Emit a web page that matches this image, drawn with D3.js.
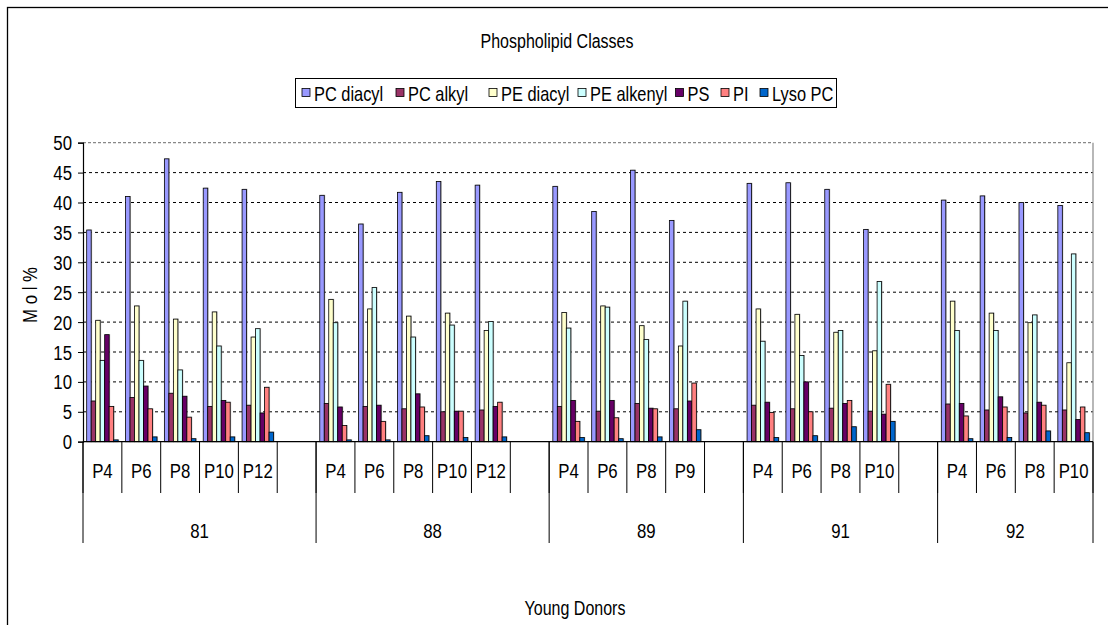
<!DOCTYPE html>
<html><head><meta charset="utf-8">
<script src="https://cdn.jsdelivr.net/npm/d3@7/dist/d3.min.js"></script>
<style>
body{margin:0;background:#fff;}
svg text{font-family:"Liberation Sans",Arial,sans-serif;fill:#000;}
</style></head><body>
<script>
// ---- data ----
const groups = ["81", "88", "89", "91", "92"];
const passages = [
  ["P4", "P6", "P8", "P10", "P12"],
  ["P4", "P6", "P8", "P10", "P12"],
  ["P4", "P6", "P8", "P9"],
  ["P4", "P6", "P8", "P10"],
  ["P4", "P6", "P8", "P10"]
];
const seriesNames = ["PC diacyl", "PC alkyl", "PE diacyl", "PE alkenyl", "PS", "PI", "Lyso PC"];
const seriesColors = ["#9999FF", "#993366", "#FFFFCC", "#CCFFFF", "#660066", "#FF8080", "#0066CC"];
const PC_diacyl  = [35.4, 41.0, 47.3, 42.4, 42.2, 41.2, 36.4, 41.7, 43.5, 42.9, 42.7, 38.5, 45.4, 37.0, 43.2, 43.3, 42.2, 35.5, 40.4, 41.1, 40.0, 39.5];
const PC_alkyl   = [6.8, 7.4, 8.1, 5.9, 6.1, 6.4, 5.9, 5.5, 5.0, 5.3, 5.9, 5.1, 6.4, 5.5, 6.1, 5.5, 5.6, 5.1, 6.3, 5.3, 4.8, 5.3];
const PE_diacyl  = [20.3, 22.7, 20.5, 21.7, 17.5, 23.8, 22.2, 21.0, 21.5, 18.6, 21.6, 22.7, 19.4, 16.0, 22.2, 21.3, 18.3, 15.2, 23.5, 21.5, 19.9, 13.2];
const PE_alkenyl = [13.6, 13.6, 12.0, 16.0, 18.9, 19.9, 25.8, 17.5, 19.5, 20.1, 19.0, 22.5, 17.1, 23.5, 16.8, 14.4, 18.6, 26.8, 18.6, 18.6, 21.2, 31.4];
const PS         = [17.9, 9.3, 7.6, 6.9, 4.8, 5.8, 6.1, 8.0, 5.1, 5.9, 6.9, 6.9, 5.6, 6.8, 6.6, 10.0, 6.4, 4.6, 6.4, 7.5, 6.6, 3.7];
const PI         = [5.9, 5.5, 4.1, 6.6, 9.1, 2.7, 3.4, 5.8, 5.1, 6.6, 3.4, 4.0, 5.5, 9.8, 4.9, 5.0, 6.9, 9.6, 4.3, 5.8, 6.1, 5.8];
const Lyso_PC    = [0.3, 0.8, 0.5, 0.8, 1.6, 0.3, 0.3, 1.0, 0.7, 0.8, 0.7, 0.5, 0.8, 2.0, 0.7, 1.0, 2.5, 3.4, 0.5, 0.7, 1.8, 1.5];
const yTicks = [0, 5, 10, 15, 20, 25, 30, 35, 40, 45, 50];
const titleText = "Phospholipid Classes";
const xTitle = "Young Donors";
const yTitle = "M o l %";

const seriesValues = [PC_diacyl, PC_alkyl, PE_diacyl, PE_alkenyl, PS, PI, Lyso_PC];

const slots = [];
const groupSpans = [];
let k = 0;
groups.forEach((g, gi) => {
  const first = slots.length;
  passages[gi].forEach(p => { slots.push({id: "s" + slots.length, label: p, group: g, idx: k++}); });
  if (gi < groups.length - 1) slots.push({id: "s" + slots.length, label: "", group: g, idx: -1});
  groupSpans.push({group: g, first: first, last: slots.length - 1});
});

const W = 1108, H = 625;
const L = 83, R = 1093, T = 142.7, B = 441.7;
const SX = 0.8; // narrow-font emulation
const svg = d3.select("body").append("svg").attr("width", W).attr("height", H);

function txt(parent, x, y, s, size, anchor, rot) {
  return parent.append("text")
    .attr("transform", `translate(${x},${y})` + (rot ? ` rotate(${rot})` : "") + ` scale(${SX},1)`)
    .attr("text-anchor", anchor || "start").attr("font-size", size).text(s);
}

svg.append("rect").attr("x", 7.5).attr("y", 7.5).attr("width", W + 10).attr("height", H + 10)
  .attr("fill", "none").attr("stroke", "#000").attr("stroke-width", 1.3);

const x0 = d3.scaleBand().domain(slots.map(s => s.id)).range([L, R]).padding(0);
const x1 = d3.scaleBand().domain(seriesNames).range([0, x0.bandwidth()]).paddingInner(0).paddingOuter(0.82);
const y = d3.scaleLinear().domain([0, 50]).range([B, T]);

svg.append("g").selectAll("line").data(yTicks.filter(t => t > 0 && t < 50)).join("line")
  .attr("x1", L).attr("x2", R).attr("y1", d => y(d)).attr("y2", d => y(d))
  .attr("stroke", "#000").attr("stroke-width", 1).attr("stroke-dasharray", "3,3");
svg.append("line").attr("x1", L).attr("x2", R).attr("y1", y(50)).attr("y2", y(50))
  .attr("stroke", "#888").attr("stroke-width", 1.2).attr("stroke-dasharray", "3,2");
svg.append("line").attr("x1", R).attr("x2", R).attr("y1", y(50)).attr("y2", B)
  .attr("stroke", "#888").attr("stroke-width", 1.2);

const barData = [];
slots.forEach(s => {
  if (s.idx < 0) return;
  seriesNames.forEach((n, si) => barData.push({slot: s.id, name: n, color: seriesColors[si], v: seriesValues[si][s.idx]}));
});
const gb = svg.append("g");
gb.selectAll("rect.sh").data(barData).join("rect").attr("class", "sh")
  .attr("x", d => x0(d.slot) + x1(d.name) + 1).attr("y", d => y(d.v) - 0.5)
  .attr("width", x1.bandwidth()).attr("height", d => B - y(d.v) + 0.5)
  .attr("fill", "#999").attr("opacity", 0.6);
gb.selectAll("rect.b").data(barData).join("rect").attr("class", "b")
  .attr("x", d => x0(d.slot) + x1(d.name)).attr("y", d => y(d.v))
  .attr("width", x1.bandwidth()).attr("height", d => B - y(d.v))
  .attr("fill", d => d.color).attr("stroke", "#000").attr("stroke-width", 0.8);

const yAxis = d3.axisLeft(y).tickValues(yTicks).tickSize(5).tickFormat("");
const ga = svg.append("g").attr("transform", `translate(${L},0)`).call(yAxis);
ga.select(".domain").attr("stroke", "#000").attr("stroke-width", 1.2);
ga.selectAll(".tick line").attr("stroke", "#000");
const gyl = svg.append("g");
yTicks.forEach(t => txt(gyl, 72, y(t) + 7.5, String(t), 21, "end"));

svg.append("line").attr("x1", L).attr("x2", R).attr("y1", B).attr("y2", B).attr("stroke", "#000").attr("stroke-width", 1.2);

const sepX = slots.map(s => x0(s.id)).concat([R]);
svg.append("g").selectAll("line").data(sepX).join("line")
  .attr("x1", d => d).attr("x2", d => d).attr("y1", B).attr("y2", 493)
  .attr("stroke", "#000").attr("stroke-width", 1);
const gsep = groupSpans.map(g => x0(slots[g.first].id)).concat([R]);
svg.append("g").selectAll("line").data(gsep).join("line")
  .attr("x1", d => d).attr("x2", d => d).attr("y1", B).attr("y2", 543)
  .attr("stroke", "#000").attr("stroke-width", 1);

const gpl = svg.append("g");
slots.filter(s => s.label).forEach(s => txt(gpl, x0(s.id) + x0.bandwidth() / 2, 477.5, s.label, 21, "middle"));
const ggl = svg.append("g");
groupSpans.forEach(g => txt(ggl, (x0(slots[g.first].id) + x0(slots[g.last].id) + x0.bandwidth()) / 2, 537.5, g.group, 21, "middle"));

txt(svg, 557, 47.5, titleText, 20, "middle");
txt(svg, 575, 615, xTitle, 20, "middle");
txt(svg, 37, 295, yTitle, 21, "middle", -90);

const lg = svg.append("g");
lg.append("rect").attr("x", 295.5).attr("y", 78.5).attr("width", 541).attr("height", 29)
  .attr("fill", "#fff").attr("stroke", "#000").attr("stroke-width", 1);
const legX = [302, 396, 489, 578, 675.5, 721, 760];
seriesNames.forEach((n, i) => {
  lg.append("rect").attr("x", legX[i]).attr("y", 88.5).attr("width", 8).attr("height", 8)
    .attr("fill", seriesColors[i]).attr("stroke", "#000").attr("stroke-width", 0.8);
  txt(lg, legX[i] + 12, 100.5, n, 20.5, "start");
});
</script>
</body></html>
